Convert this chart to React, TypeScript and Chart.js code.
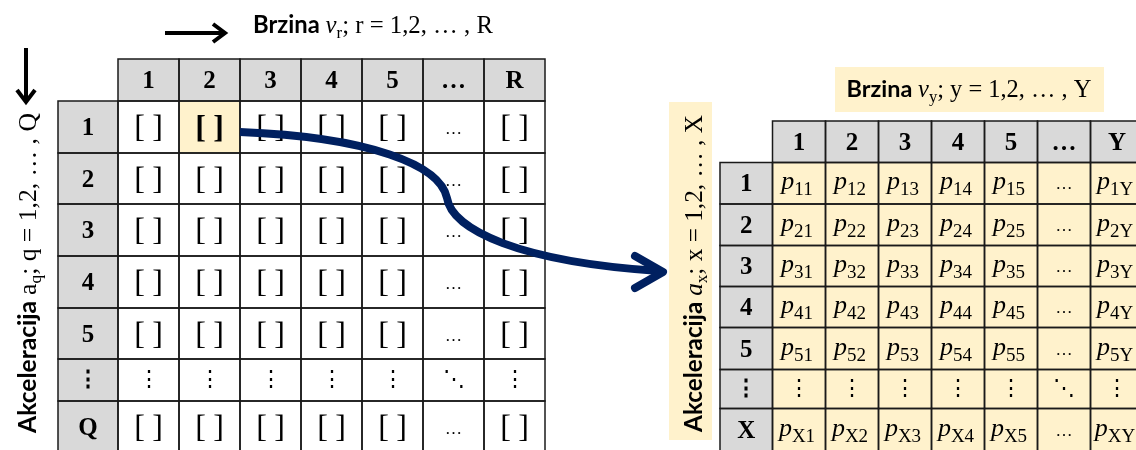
import React, { useEffect, useRef } from 'react';
import { Chart, registerables } from 'chart.js';

Chart.register(...registerables);

// ---------- data ----------
const leftColLabels = ['1', '2', '3', '4', '5', '…', 'R'];
const leftRowLabels = ['1', '2', '3', '4', '5', '⋮', 'Q'];
const rightColLabels = ['1', '2', '3', '4', '5', '…', 'Y'];
const rightRowLabels = ['1', '2', '3', '4', '5', '⋮', 'X'];
const highlightedCell = [0, 1]; // row index, column index in the left table
const leftTitleParts = ['Brzina ', 'v', 'r', '; r = 1,2, … , R'];
const leftAxisParts = ['Akceleracija ', 'a', 'q', '; q = 1,2, … , Q'];
const rightTitleParts = ['Brzina ', 'v', 'y', '; y = 1,2, … , Y'];
const rightAxisParts = ['Akceleracija ', 'a', 'x', '; x = 1,2, … , X'];
const cellSymbol = 'p';
const bracketOpen = '[';
const bracketClose = ']';

// ---------- layout & style ----------
const W = 1136;
const H = 450;
const LEFT = { x0: 58, headW: 60, colW: [61, 61, 61, 61, 61, 61, 61], y0: 59, headH: 42, rowH: [52, 51, 52, 52, 51, 42, 52], digit: 25 };
const RIGHT = { x0: 720, headW: 52.5, colW: [53, 53, 53, 53, 53, 53, 53], y0: 121, headH: 41.5, rowH: [41.5, 41.5, 41, 41, 42, 39, 43], digit: 25 };
const SERIF = '"Liberation Serif", "DejaVu Serif", serif';
const SANS = 'Lato, "Open Sans", sans-serif';
const DOTS = '"DejaVu Serif", serif';
const GREY = '#d9d9d9';
const CREAM = '#fff2cc';
const NAVY = '#002060';
const LINE = '#1a1a1a';

type Seg = { t: string; f: string; dy?: number };

function edges(start: number, first: number, sizes: number[]) {
  const out = [start, start + first];
  sizes.forEach((s) => out.push(out[out.length - 1] + s));
  return out;
}

function richWidth(ctx: CanvasRenderingContext2D, segs: Seg[]) {
  let w = 0;
  segs.forEach((s) => {
    ctx.font = s.f;
    w += ctx.measureText(s.t).width;
  });
  return w;
}

function drawRich(ctx: CanvasRenderingContext2D, segs: Seg[], x: number, y: number, align: 'center' | 'left') {
  const w = richWidth(ctx, segs);
  let cx = align === 'center' ? x - w / 2 : x;
  ctx.textAlign = 'left';
  ctx.textBaseline = 'alphabetic';
  segs.forEach((s) => {
    ctx.font = s.f;
    ctx.fillText(s.t, cx, y + (s.dy || 0));
    cx += ctx.measureText(s.t).width;
  });
}

function labelSegs(parts: string[], italicSym: boolean, k: number): Seg[] {
  return [
    { t: parts[0], f: `bold ${24 * k}px ${SANS}` },
    { t: parts[1], f: `${italicSym ? 'italic ' : ''}${25 * k}px ${SERIF}` },
    { t: parts[2], f: `${17 * k}px ${SERIF}`, dy: 5 * k },
    { t: parts[3], f: `${25 * k}px ${SERIF}` },
  ];
}

// label scaled so that it spans a given length
function fittedLabel(ctx: CanvasRenderingContext2D, parts: string[], italicSym: boolean, length: number) {
  const w = richWidth(ctx, labelSegs(parts, italicSym, 1));
  return labelSegs(parts, italicSym, length / w);
}

const diagramPlugin = {
  id: 'diagram',
  afterDraw(chart: any) {
    const ctx: CanvasRenderingContext2D = chart.ctx;
    const xs = chart.scales.x;
    const ys = chart.scales.y;
    const X = (v: number) => xs.getPixelForValue(v);
    const Y = (v: number) => ys.getPixelForValue(v);

    ctx.save();
    ctx.fillStyle = '#ffffff';
    ctx.fillRect(X(0), Y(0), X(W) - X(0), Y(H) - Y(0));

    const cell = (x1: number, y1: number, x2: number, y2: number, fill: string) => {
      ctx.fillStyle = fill;
      ctx.fillRect(X(x1), Y(y1), X(x2) - X(x1), Y(y2) - Y(y1));
    };
    const border = (x1: number, y1: number, x2: number, y2: number) => {
      ctx.strokeStyle = LINE;
      ctx.lineWidth = 1.5;
      ctx.strokeRect(X(x1), Y(y1), X(x2) - X(x1), Y(y2) - Y(y1));
    };
    const text = (t: string, x: number, y: number, font: string) => {
      ctx.font = font;
      ctx.fillStyle = '#000';
      ctx.textAlign = 'center';
      ctx.textBaseline = 'alphabetic';
      ctx.fillText(t, X(x), Y(y));
    };
    const centerText = (t: string, x: number, y: number, font: string) => {
      ctx.font = font;
      ctx.fillStyle = '#000';
      ctx.textAlign = 'center';
      ctx.textBaseline = 'middle';
      ctx.fillText(t, X(x), Y(y));
    };

    const drawTable = (
      L: typeof LEFT,
      cols: string[],
      rows: string[],
      bodyFill: (r: number, c: number) => string,
      body: (r: number, c: number, cx: number, cy: number) => void
    ) => {
      const ce = edges(L.x0, L.headW, L.colW);
      const re = edges(L.y0, L.headH, L.rowH);
      const digitFont = `bold ${L.digit}px ${SERIF}`;
      cols.forEach((_, c) => cell(ce[c + 1], re[0], ce[c + 2], re[1], GREY));
      rows.forEach((_, r) => {
        cell(ce[0], re[r + 1], ce[1], re[r + 2], GREY);
        cols.forEach((_, c) => cell(ce[c + 1], re[r + 1], ce[c + 2], re[r + 2], bodyFill(r, c)));
      });
      cols.forEach((lab, c) => {
        const cx = (ce[c + 1] + ce[c + 2]) / 2;
        const cy = (re[0] + re[1]) / 2;
        text(lab, cx, cy + L.digit * 0.32, digitFont);
      });
      rows.forEach((lab, r) => {
        const cx = (ce[0] + ce[1]) / 2;
        const cy = (re[r + 1] + re[r + 2]) / 2;
        if (lab === '⋮') centerText(lab, cx, cy, `bold 22px ${DOTS}`);
        else text(lab, cx, cy + L.digit * 0.32, digitFont);
        cols.forEach((_, c) => body(r, c, (ce[c + 1] + ce[c + 2]) / 2, cy));
      });
      cols.forEach((_, c) => border(ce[c + 1], re[0], ce[c + 2], re[1]));
      rows.forEach((_, r) => {
        border(ce[0], re[r + 1], ce[1], re[r + 2]);
        cols.forEach((_, c) => border(ce[c + 1], re[r + 1], ce[c + 2], re[r + 2]));
      });
      return { ce, re };
    };

    // ---------- left table ----------
    const left = drawTable(
      LEFT,
      leftColLabels,
      leftRowLabels,
      (r, c) => (r === highlightedCell[0] && c === highlightedCell[1] ? CREAM : '#ffffff'),
      (r, c, cx, cy) => {
        const rl = leftRowLabels[r];
        const cl = leftColLabels[c];
        if (rl === '⋮' && cl === '…') centerText('⋱', cx, cy, `22px ${DOTS}`);
        else if (rl === '⋮') centerText('⋮', cx, cy, `22px ${DOTS}`);
        else if (cl === '…') text('…', cx, cy + 7, `17px ${SERIF}`);
        else {
          const hl = r === highlightedCell[0] && c === highlightedCell[1];
          const f = `${hl ? 'bold ' : ''}32px ${SERIF}`;
          text(bracketOpen, cx - 9, cy + 10, f);
          text(bracketClose, cx + 9, cy + 10, f);
        }
      }
    );

    // ---------- right table ----------
    drawTable(
      RIGHT,
      rightColLabels,
      rightRowLabels,
      () => CREAM,
      (r, c, cx, cy) => {
        const rl = rightRowLabels[r];
        const cl = rightColLabels[c];
        if (rl === '⋮' && cl === '…') centerText('⋱', cx, cy, `22px ${DOTS}`);
        else if (rl === '⋮') centerText('⋮', cx, cy, `22px ${DOTS}`);
        else if (cl === '…') text('…', cx, cy + 6, `17px ${SERIF}`);
        else {
          ctx.fillStyle = '#000';
          drawRich(
            ctx,
            [
              { t: cellSymbol, f: `italic 26px ${SERIF}` },
              { t: rl + cl, f: `19px ${SERIF}`, dy: 6 },
            ],
            X(cx - 2),
            Y(cy + 6),
            'center'
          );
        }
      }
    );

    // ---------- titles ----------
    ctx.fillStyle = '#000';
    drawRich(ctx, fittedLabel(ctx, leftTitleParts, true, 240), X(373), Y(33), 'center');

    cell(835, 67, 1104, 112, CREAM);
    ctx.fillStyle = '#000';
    drawRich(ctx, fittedLabel(ctx, rightTitleParts, true, 245), X(969), Y(97), 'center');

    // left vertical label
    ctx.save();
    ctx.translate(X(35.5), Y(273));
    ctx.rotate(-Math.PI / 2);
    ctx.fillStyle = '#000';
    drawRich(ctx, fittedLabel(ctx, leftAxisParts, false, 320), 0, 0, 'center');
    ctx.restore();

    // right vertical label box
    const boxX1 = 669;
    const boxX2 = 712;
    cell(boxX1, 102, boxX2, 440, CREAM);
    ctx.save();
    ctx.translate(X(701.5), Y(273.5));
    ctx.rotate(-Math.PI / 2);
    ctx.fillStyle = '#000';
    drawRich(ctx, fittedLabel(ctx, rightAxisParts, true, 317), 0, 0, 'center');
    ctx.restore();

    // ---------- black direction arrows ----------
    ctx.strokeStyle = '#000';
    ctx.lineWidth = 4;
    ctx.lineCap = 'butt';
    ctx.lineJoin = 'miter';
    ctx.beginPath();
    ctx.moveTo(X(165), Y(33));
    ctx.lineTo(X(224), Y(33));
    ctx.stroke();
    ctx.beginPath();
    ctx.moveTo(X(213), Y(24));
    ctx.lineTo(X(225), Y(33));
    ctx.lineTo(X(213), Y(42));
    ctx.stroke();
    ctx.beginPath();
    ctx.moveTo(X(26), Y(48));
    ctx.lineTo(X(26), Y(101));
    ctx.stroke();
    ctx.beginPath();
    ctx.moveTo(X(17), Y(90));
    ctx.lineTo(X(26), Y(102));
    ctx.lineTo(X(35), Y(90));
    ctx.stroke();

    // ---------- navy curve ----------
    const r0 = highlightedCell[0];
    const c0 = highlightedCell[1];
    const sx = left.ce[c0 + 2];
    const sy = (left.re[r0 + 1] + left.re[r0 + 2]) / 2 + 5;
    const tx = boxX1 - 4;
    const ty = 272;
    const mx = 447;
    const my = 198;
    ctx.strokeStyle = NAVY;
    ctx.lineWidth = 8;
    ctx.lineCap = 'butt';
    ctx.lineJoin = 'round';
    ctx.beginPath();
    ctx.moveTo(X(sx), Y(sy));
    ctx.bezierCurveTo(X(sx + 130), Y(sy + 5), X(mx - 7), Y(my - 33), X(mx), Y(my));
    ctx.bezierCurveTo(X(mx + 5), Y(my + 32), X(mx + 73), Y(ty - 10), X(tx - 6), Y(ty - 1));
    ctx.stroke();
    ctx.lineCap = 'round';
    ctx.beginPath();
    ctx.moveTo(X(tx - 30), Y(ty - 16));
    ctx.lineTo(X(tx - 2), Y(ty));
    ctx.lineTo(X(tx - 30), Y(ty + 16));
    ctx.stroke();

    ctx.restore();
  },
};

export default function App() {
  const ref = useRef<HTMLCanvasElement | null>(null);
  useEffect(() => {
    document.body.style.margin = '0';
    if (!ref.current) return;
    const chart = new Chart(ref.current, {
      type: 'scatter',
      data: { datasets: [] },
      options: {
        animation: false,
        responsive: false,
        devicePixelRatio: 1,
        events: [],
        layout: { padding: 0 },
        plugins: { legend: { display: false }, tooltip: { enabled: false }, title: { display: false } },
        scales: {
          x: { type: 'linear', min: 0, max: W, display: false },
          y: { type: 'linear', min: 0, max: H, reverse: true, display: false },
        },
      },
      plugins: [diagramPlugin],
    } as any);
    return () => chart.destroy();
  }, []);
  return (
    <div style={{ width: W, height: H }}>
      <canvas ref={ref} width={W} height={H} style={{ display: 'block', width: W, height: H }} />
    </div>
  );
}
